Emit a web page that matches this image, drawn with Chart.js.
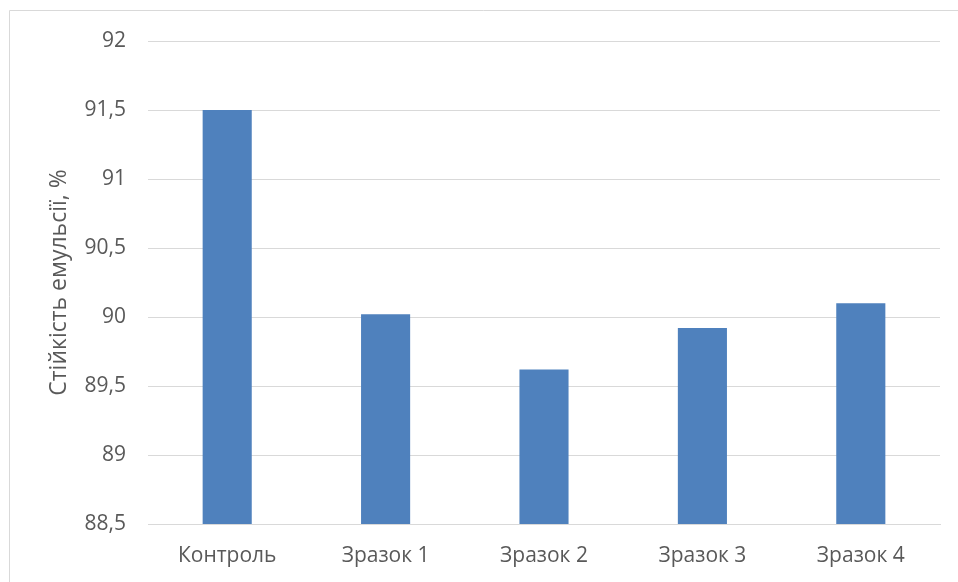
<!DOCTYPE html>
<html lang="uk">
<head>
    <meta charset="UTF-8">
    <title>Стійкість емульсії</title>
    <script src="https://cdn.jsdelivr.net/npm/chart.js"></script>
    <style>
        html, body { margin: 0; padding: 0; background: #fff; }
        .wrap { position: relative; width: 958px; height: 582px; }
    </style>
</head>
<body>
    <div class="wrap">
        <canvas id="emulsionChart" width="958" height="582"></canvas>
    </div>
    <script>
        const categories = ['Контроль', 'Зразок 1', 'Зразок 2', 'Зразок 3', 'Зразок 4'];
        const stability = [91.5, 90.02, 89.62, 89.92, 90.1];
        const yMin = 88.5;
        const yMax = 92;
        const yStep = 0.5;

        const frame = {
            id: 'frame',
            beforeDraw(chart) {
                const c = chart.ctx;
                c.save();
                c.strokeStyle = '#d9d9d9';
                c.lineWidth = 1;
                c.beginPath();
                c.moveTo(9.5, 582);
                c.lineTo(9.5, 10.5);
                c.lineTo(958, 10.5);
                c.stroke();
                c.restore();
            }
        };

        const font = { family: 'Open Sans', size: 21 };

        new Chart(document.getElementById('emulsionChart'), {
            type: 'bar',
            data: {
                labels: categories,
                datasets: [{
                    data: stability,
                    backgroundColor: '#4f81bd',
                    borderWidth: 0,
                    barPercentage: 1,
                    categoryPercentage: 0.31
                }]
            },
            options: {
                responsive: false,
                animation: false,
                layout: { padding: { top: 41, right: 18, left: 0, bottom: 0 } },
                plugins: { legend: { display: false }, tooltip: { enabled: false } },
                scales: {
                    x: {
                        grid: { display: false },
                        border: { color: '#d9d9d9', width: 1 },
                        ticks: { color: '#595959', font: font, padding: 11 },
                        afterFit(axis) { axis.height = 58; }
                    },
                    y: {
                        min: yMin,
                        max: yMax,
                        grid: { color: '#d9d9d9', drawTicks: false },
                        border: { display: false },
                        ticks: {
                            stepSize: yStep,
                            color: '#595959',
                            font: font,
                            padding: 22,
                            callback: v => String(v).replace('.', ',')
                        },
                        title: {
                            display: true,
                            text: 'Стійкість емульсії, %',
                            color: '#595959',
                            font: { family: 'Open Sans', size: 23 },
                            padding: { top: 46, bottom: 10 }
                        },
                        afterFit(axis) { axis.width = 148; }
                    }
                }
            },
            plugins: [frame]
        });
    </script>
</body>
</html>
